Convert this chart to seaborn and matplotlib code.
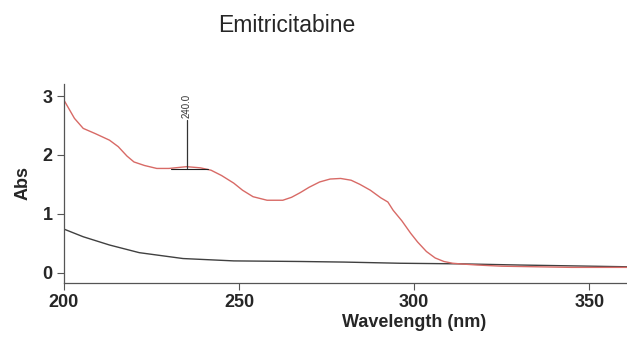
import numpy as np
import pandas as pd
import matplotlib
matplotlib.use("Agg")
import matplotlib.pyplot as plt
import seaborn as sns

# sample spectrum (red)
sample_nm = [200, 203, 205.5, 209, 213, 215.5, 218, 220, 223, 226.5, 230, 235, 239, 242, 245,
             248.5, 251, 254, 258, 262.5, 265, 267.5, 270, 273, 276, 279, 282, 284.5, 287.5,
             290.5, 292.5, 294, 296.5, 299, 301, 303.5, 306, 308.5, 311, 313, 318, 325,
             335, 345, 361]
sample_abs = [2.93, 2.62, 2.45, 2.36, 2.25, 2.14, 1.98, 1.88, 1.82, 1.77, 1.77, 1.80, 1.78, 1.74, 1.65,
              1.52, 1.40, 1.29, 1.23, 1.23, 1.28, 1.36, 1.45, 1.54, 1.59, 1.60, 1.57, 1.50, 1.40,
              1.27, 1.20, 1.06, 0.88, 0.67, 0.52, 0.36, 0.25, 0.19, 0.16, 0.15, 0.13, 0.11,
              0.10, 0.09, 0.09]

# blank / baseline spectrum (black)
blank_nm = [200, 205.5, 213, 221.5, 234, 248.5, 267.5, 280, 296, 313, 330, 361]
blank_abs = [0.74, 0.61, 0.47, 0.34, 0.24, 0.20, 0.19, 0.18, 0.16, 0.15, 0.13, 0.10]

peak_nm = 235.0
peak_label = "240.0"

df = pd.concat([
    pd.DataFrame({"nm": blank_nm, "Abs": blank_abs, "trace": "blank"}),
    pd.DataFrame({"nm": sample_nm, "Abs": sample_abs, "trace": "sample"}),
])

sns.set_style("ticks")
plt.rcParams["font.family"] = ["Liberation Sans", "DejaVu Sans"]

fig = plt.figure(figsize=(6.27, 3.41), dpi=100)
# the x range runs to 400 nm, the right part is cropped like in the source
ax = fig.add_axes([0.102, 0.171, 1.117, 0.582])

sns.lineplot(data=df, x="nm", y="Abs", hue="trace", ax=ax, sort=False,
             palette={"blank": "#404040", "sample": "#d86a66"}, linewidth=1.0, legend=False)

# peak pick marker
ax.plot([peak_nm, peak_nm], [1.78, 2.59], color="#333333", lw=0.9)
ax.plot([230.5, 241], [1.765, 1.765], color="#222222", lw=0.8)
ax.text(peak_nm, 2.62, peak_label, rotation=90, ha="center", va="bottom", fontsize=7, color="#333333")

ax.set_xlim(200, 400)
ax.set_ylim(-0.17, 3.2)
ax.set_xticks([200, 250, 300, 350])
ax.set_yticks([0, 1, 2, 3])
ax.set_xlabel("Wavelength (nm)", fontsize=13, fontweight="bold", labelpad=2)
ax.set_ylabel("Abs", fontsize=13, fontweight="bold", labelpad=8)
ax.tick_params(axis="both", direction="out", length=5, width=0.8, color="#555555",
               labelsize=13, pad=3)
for lab in ax.get_xticklabels() + ax.get_yticklabels():
    lab.set_fontweight("bold")
sns.despine(ax=ax)
for side in ["left", "bottom"]:
    ax.spines[side].set_color("#555555")
    ax.spines[side].set_linewidth(0.9)

fig.text(0.457, 0.925, "Emitricitabine", ha="center", va="center", fontsize=16.5)

fig.savefig("out.png", dpi=100)
